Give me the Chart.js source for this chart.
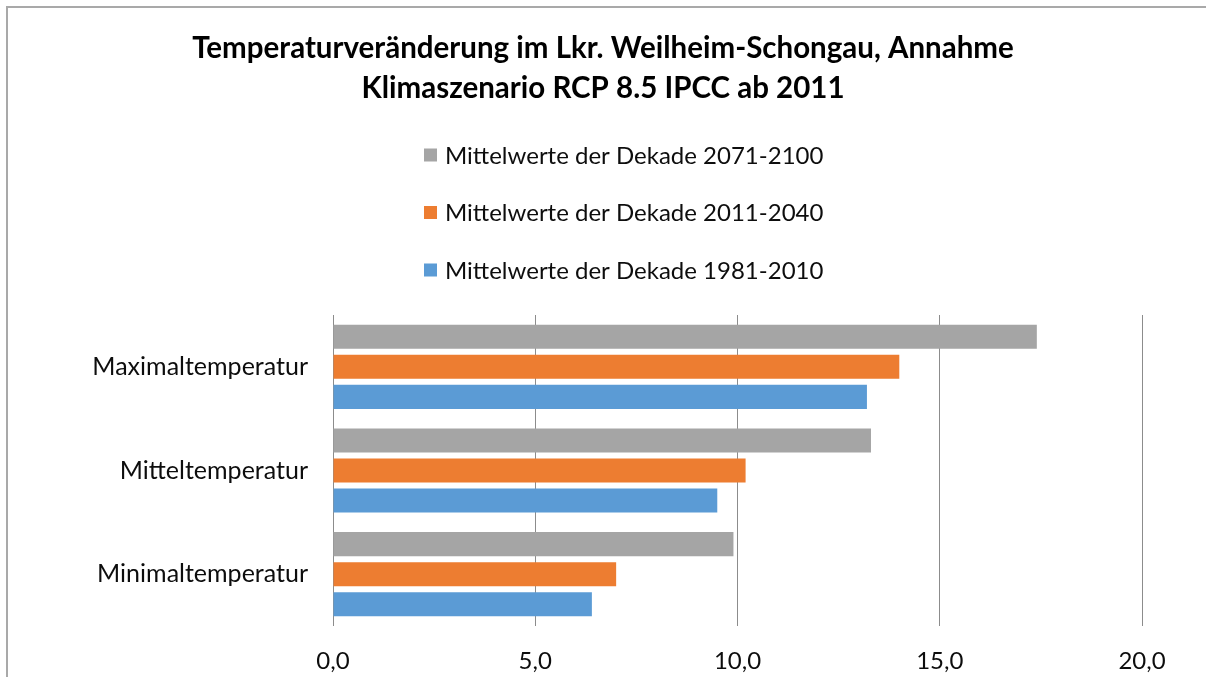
<!DOCTYPE html>
<html><head><meta charset="utf-8">
<script src="https://cdn.jsdelivr.net/npm/chart.js@4"></script>
<style>html,body{margin:0;padding:0;background:#fff;}#wrap{width:1206px;height:677px;}</style>
</head><body><div id="wrap"><canvas id="c" width="1206" height="677"></canvas></div>
<script>
const categories = ['Maximaltemperatur', 'Mitteltemperatur', 'Minimaltemperatur'];
const seriesLabels = ['Mittelwerte der Dekade 2071-2100', 'Mittelwerte der Dekade 2011-2040', 'Mittelwerte der Dekade 1981-2010'];
const values2071_2100 = [17.4, 13.3, 9.9];
const values2011_2040 = [14.0, 10.2, 7.0];
const values1981_2010 = [13.2, 9.5, 6.4];
const xTickValues = [0, 5, 10, 15, 20];
const titleLines = ['Temperaturveränderung im Lkr. Weilheim-Schongau, Annahme', 'Klimaszenario RCP 8.5 IPCC ab 2011'];
const seriesColors = ['#A5A5A5', '#ED7D31', '#5B9BD5'];

const FONT = 'Lato';

const frameAndLegend = {
  id: 'frameAndLegend',
  beforeDraw(chart) {
    const ctx = chart.ctx;
    ctx.save();
    ctx.fillStyle = '#ffffff';
    ctx.fillRect(0, 0, chart.width, chart.height);
    ctx.strokeStyle = '#a9a9a9';
    ctx.lineWidth = 2;
    ctx.beginPath();
    ctx.moveTo(7, chart.height + 2);
    ctx.lineTo(7, 7);
    ctx.lineTo(chart.width + 2, 7);
    ctx.stroke();
    ctx.restore();
  },
  afterDraw(chart) {
    const ctx = chart.ctx;
    ctx.save();
    ctx.font = '24px ' + FONT;
    ctx.textBaseline = 'middle';
    ctx.textAlign = 'left';
    const x0 = 424, y0 = 155, step = 57.5, box = 13;
    chart.data.datasets.forEach((ds, i) => {
      const cy = y0 + i * step;
      ctx.fillStyle = ds.backgroundColor;
      ctx.fillRect(x0, cy - box / 2, box, box);
      ctx.fillStyle = '#0d0d0d';
      ctx.fillText(ds.label, x0 + 21, cy + 1);
    });
    ctx.restore();
  }
};

const datasets = [values2071_2100, values2011_2040, values1981_2010].map((vals, i) => ({
  label: seriesLabels[i],
  data: vals,
  backgroundColor: seriesColors[i],
  borderWidth: 0,
  categoryPercentage: 0.87,
  barPercentage: 0.8
}));

new Chart(document.getElementById('c'), {
  type: 'bar',
  data: { labels: categories, datasets },
  plugins: [frameAndLegend],
  options: {
    indexAxis: 'y',
    responsive: false,
    animation: false,
    devicePixelRatio: 1,
    layout: { padding: 0 },
    plugins: {
      legend: { display: false },
      tooltip: { enabled: false },
      title: {
        display: true,
        text: titleLines,
        color: '#000000',
        font: { family: FONT, size: 29.5, weight: 'bold', lineHeight: '40px' },
        padding: { top: 28, bottom: 207 }
      }
    },
    scales: {
      x: {
        type: 'linear',
        min: 0, max: 20,
        afterBuildTicks(scale) { scale.ticks = xTickValues.map(v => ({ value: v })); },
        afterFit(scale) { scale.height = 51; },
        grid: { color: '#8c8c8c', lineWidth: 1, drawTicks: false },
        border: { display: false },
        ticks: {
          color: '#0d0d0d',
          font: { family: FONT, size: 24 },
          padding: 21,
          callback: (v) => Number(v).toFixed(1).replace('.', ',')
        }
      },
      y: {
        type: 'category',
        afterFit(scale) { scale.width = 333; },
        grid: { display: false, drawTicks: false },
        border: { display: false },
        ticks: {
          color: '#0d0d0d',
          font: { family: FONT, size: 25 },
          padding: 25
        }
      },
      yRight: {
        type: 'category',
        position: 'right',
        display: true,
        afterFit(scale) { scale.width = 64; },
        grid: { display: false, drawTicks: false },
        border: { display: false },
        ticks: { display: false }
      }
    }
  }
});
</script>
</body></html>
